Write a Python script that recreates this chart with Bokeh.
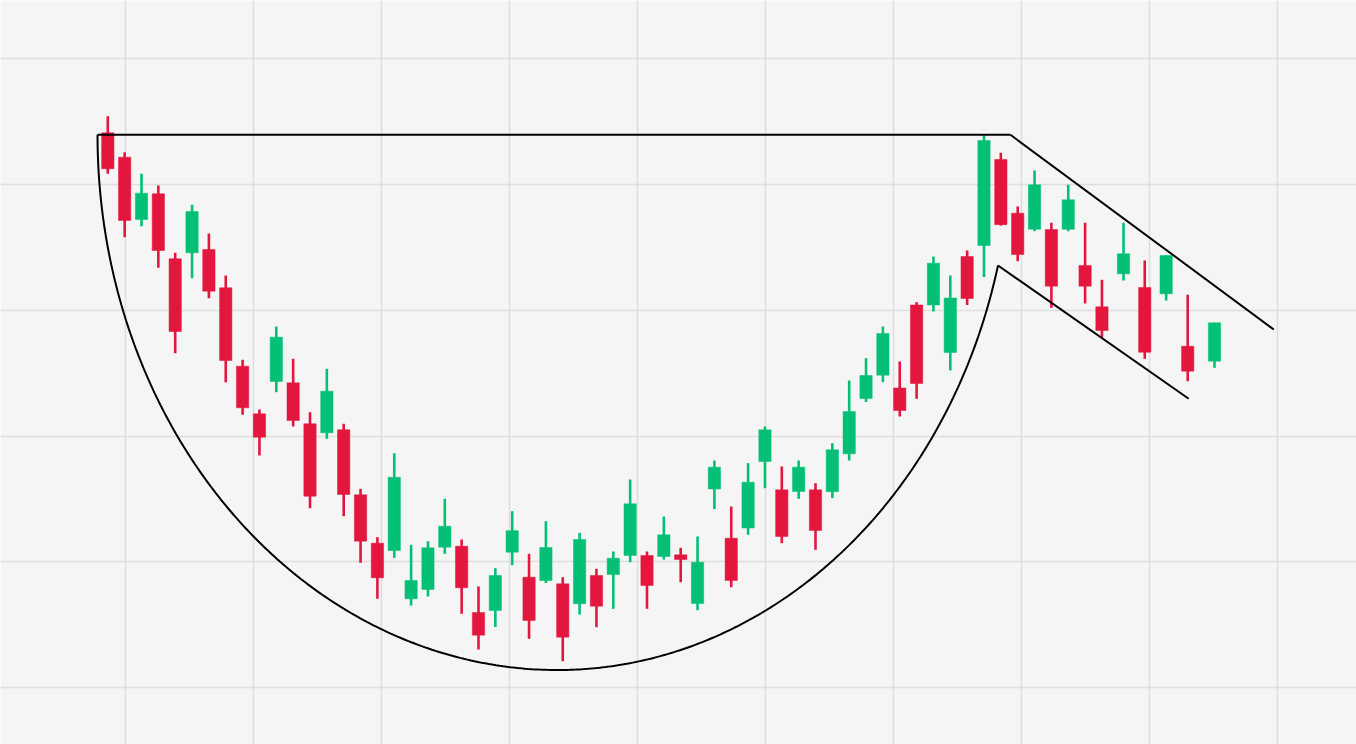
import numpy as np
from bokeh.plotting import figure
from bokeh.models import ColumnDataSource, Range1d, FixedTicker
from bokeh.embed import file_html
from bokeh.resources import INLINE

# ---- data (time index, OHLC) ----
t = list(range(60)) + [60.28, 61.54, 62.81, 64.09, 65.68]

high = [628.3, 592.3, 570.7, 559.0, 491.7, 539.7, 511.0, 469.0, 384.7, 335.0,
        418.0, 385.7, 332.3, 375.7, 320.7, 255.7, 207.3, 291.3, 199.7, 203.3,
        245.7, 205.0, 158.0, 176.3, 233.3, 190.7, 223.3, 167.3, 211.7, 175.7,
        193.0, 265.0, 193.0, 228.0, 196.7, 208.0, 284.0, 238.0, 281.3, 318.0,
        278.0, 284.0, 261.3, 301.3, 364.0, 386.3, 418.0, 383.0, 442.3, 488.0,
        469.0, 494.0, 610.5, 591.7, 538.0, 574.0, 521.7, 559.8, 521.7, 464.7,
        521.7, 484.0, 489.0, 449.8, 421.7]
open_ = [611.7, 587.3, 525.0, 550.7, 485.7, 491.7, 495.0, 456.7, 378.3, 330.7,
         363.0, 361.7, 320.7, 311.7, 314.7, 249.7, 201.3, 194.0, 145.7, 155.0,
         197.3, 198.3, 132.0, 134.0, 192.3, 167.3, 164.0, 160.7, 140.7, 169.0,
         170.0, 189.0, 189.0, 188.0, 189.7, 141.0, 255.5, 206.3, 216.5, 283.0,
         254.7, 253.0, 254.7, 252.8, 290.7, 346.0, 369.3, 356.5, 439.5, 439.5,
         392.0, 488.0, 499.0, 585.0, 531.3, 515.3, 515.0, 515.3, 479.0, 437.7,
         470.7, 457.0, 450.7, 398.3, 383.3]
close = [575.7, 524.0, 551.3, 494.0, 413.0, 533.0, 453.3, 384.0, 336.7, 307.3,
         407.3, 324.0, 248.3, 353.3, 250.0, 203.3, 166.7, 267.3, 164.0, 196.7,
         218.3, 156.7, 109.3, 169.0, 213.8, 124.0, 197.0, 107.3, 205.0, 138.3,
         186.3, 240.7, 159.0, 209.7, 185.0, 182.3, 277.3, 164.0, 262.3, 314.7,
         208.0, 277.3, 214.0, 294.7, 333.0, 369.0, 411.0, 334.0, 361.0, 481.3,
         446.5, 446.0, 604.0, 519.8, 490.0, 559.7, 458.3, 544.7, 458.3, 414.0,
         490.7, 392.3, 489.0, 373.3, 421.7]
low = [570.7, 507.3, 518.3, 476.7, 391.3, 466.3, 446.3, 362.3, 329.7, 289.0,
       352.3, 318.0, 236.3, 305.7, 228.3, 181.7, 145.7, 186.7, 139.0, 148.0,
       190.7, 130.7, 95.0, 117.5, 179.3, 105.7, 161.5, 83.3, 130.0, 117.3,
       135.7, 182.3, 135.7, 185.0, 162.3, 134.3, 235.5, 157.3, 209.7, 256.3,
       201.3, 245.7, 194.7, 246.3, 284.0, 342.5, 362.3, 328.0, 345.7, 433.0,
       374.0, 439.5, 467.5, 519.0, 483.3, 513.3, 436.7, 513.3, 441.0, 407.0,
       464.0, 385.7, 444.0, 363.3, 376.7]

# ---- pattern annotation anchors (t, price) ----
rim_level = 609.7
rim_start_t, rim_end_t = -0.61, 53.57
cup_bottom_t, cup_bottom_price = 26.69, 74.5
cup_end_t, cup_end_price = 52.83, 479.0
lower_ch_end_t, lower_ch_end_price = 64.15, 345.7
upper_ch_end_t, upper_ch_end_price = 69.2, 415.0

UP = "#03C076"
DOWN = "#E3173E"
BG = "#F5F5F5"
GRID = "#DEDEDE"

o = np.array(open_); c = np.array(close)
colors = [UP if cc >= oo else DOWN for oo, cc in zip(o, c)]
src = ColumnDataSource(dict(t=t, high=high, low=low,
                            top=np.maximum(o, c), bottom=np.minimum(o, c),
                            color=colors))

p = figure(width=1356, height=744, output_backend="svg", toolbar_location=None,
           x_range=Range1d(-6.368, 74.107), y_range=Range1d(0, 744),
           min_border=0, background_fill_color=BG, border_fill_color=BG,
           outline_line_color=None)
p.xaxis.visible = False
p.yaxis.visible = False
xt = FixedTicker(ticks=[1.0504 + 7.5964 * k for k in range(10)])
yt = FixedTicker(ticks=[57.0, 182.8, 308.5, 434.2, 560.0, 685.7])
p.xaxis.ticker = xt
p.yaxis.ticker = yt
p.xgrid.ticker = xt
p.ygrid.ticker = yt
p.grid.grid_line_color = GRID
p.grid.grid_line_width = 1.5

# wicks and bodies
p.segment(x0="t", y0="low", x1="t", y1="high", source=src, line_color="color", line_width=2.6)
p.vbar(x="t", width=0.73, top="top", bottom="bottom", source=src,
       fill_color="color", line_color="color", line_width=0.5)

# rim line
p.line([rim_start_t, rim_end_t], [rim_level, rim_level], line_color="black", line_width=2)

# cup: half-ellipse from rim (left) through bottom up to handle start
b = rim_level - cup_bottom_price
a_left = cup_bottom_t - rim_start_t
frac_end = (rim_level - cup_end_price) / b
a_right = (cup_end_t - cup_bottom_t) / np.sqrt(1 - frac_end ** 2)
th_left = np.linspace(np.pi, 1.5 * np.pi, 200)
xl = cup_bottom_t + a_left * np.cos(th_left)
yl = rim_level + b * np.sin(th_left)
th_end = 2 * np.pi - np.arcsin(frac_end)
th_right = np.linspace(1.5 * np.pi, th_end, 200)
xr = cup_bottom_t + a_right * np.cos(th_right)
yr = rim_level + b * np.sin(th_right)
p.line(np.concatenate([xl, xr]), np.concatenate([yl, yr]), line_color="black", line_width=2)

# handle channel
p.line([cup_end_t, lower_ch_end_t], [cup_end_price, lower_ch_end_price], line_color="black", line_width=2)
p.line([rim_end_t, upper_ch_end_t], [rim_level, upper_ch_end_price], line_color="black", line_width=2)

open("out.html", "w").write(file_html(p, INLINE))
